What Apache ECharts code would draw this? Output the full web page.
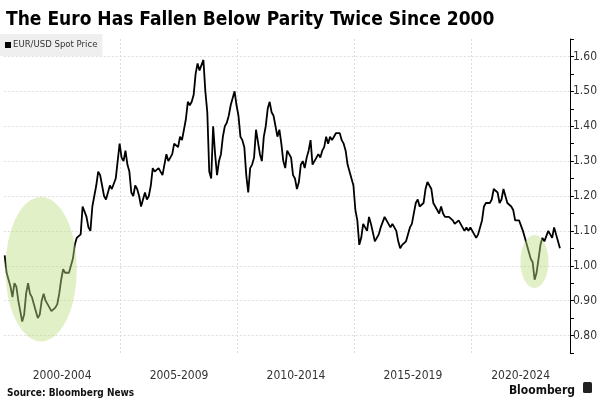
<!DOCTYPE html>
<html><head><meta charset="utf-8">
<script src="https://cdn.jsdelivr.net/npm/echarts@6/dist/echarts.min.js"></script>
<style>html,body{margin:0;padding:0;background:#fff}#c{width:600px;height:400px}</style>
</head><body><div id="c"></div>
<script>
// EUR/USD spot, approximate monthly values
const y2000 = [1.03, 0.98, 0.96, 0.94, 0.91, 0.95, 0.94, 0.90, 0.87, 0.84, 0.86, 0.92];
const y2001 = [0.95, 0.92, 0.91, 0.89, 0.87, 0.85, 0.86, 0.90, 0.92, 0.90, 0.89, 0.88];
const y2002 = [0.87, 0.87, 0.88, 0.89, 0.92, 0.96, 0.99, 0.98, 0.98, 0.98, 1.00, 1.02];
const y2003 = [1.06, 1.08, 1.08, 1.09, 1.17, 1.17, 1.14, 1.11, 1.10, 1.17, 1.17, 1.23];
const y2004 = [1.27, 1.26, 1.23, 1.20, 1.19, 1.21, 1.23, 1.22, 1.22, 1.25, 1.30, 1.35];
const y2005 = [1.31, 1.30, 1.33, 1.29, 1.27, 1.21, 1.20, 1.23, 1.22, 1.20, 1.17, 1.19];
const y2006 = [1.21, 1.19, 1.20, 1.23, 1.28, 1.27, 1.27, 1.28, 1.27, 1.26, 1.29, 1.32];
const y2007 = [1.30, 1.31, 1.32, 1.35, 1.35, 1.34, 1.37, 1.36, 1.39, 1.42, 1.47, 1.46];
const y2008 = [1.47, 1.49, 1.55, 1.58, 1.56, 1.56, 1.59, 1.50, 1.44, 1.27, 1.25, 1.40];
const y2009 = [1.32, 1.26, 1.30, 1.32, 1.37, 1.40, 1.41, 1.43, 1.46, 1.48, 1.50, 1.46];
const y2010 = [1.43, 1.37, 1.36, 1.34, 1.26, 1.21, 1.28, 1.29, 1.31, 1.39, 1.39, 1.32];
const y2011 = [1.30, 1.37, 1.40, 1.45, 1.47, 1.44, 1.43, 1.43, 1.37, 1.39, 1.35, 1.30];
const y2012 = [1.28, 1.33, 1.32, 1.31, 1.26, 1.25, 1.22, 1.24, 1.29, 1.30, 1.28, 1.31];
const y2013 = [1.33, 1.36, 1.29, 1.30, 1.30, 1.32, 1.31, 1.33, 1.34, 1.37, 1.35, 1.37];
const y2014 = [1.36, 1.37, 1.38, 1.38, 1.38, 1.36, 1.35, 1.33, 1.29, 1.27, 1.25, 1.23];
const y2015 = [1.16, 1.13, 1.06, 1.08, 1.12, 1.12, 1.10, 1.14, 1.12, 1.12, 1.07, 1.07];
const y2016 = [1.09, 1.11, 1.11, 1.14, 1.14, 1.12, 1.11, 1.12, 1.12, 1.10, 1.07, 1.05];
const y2017 = [1.06, 1.06, 1.07, 1.07, 1.11, 1.12, 1.15, 1.18, 1.19, 1.17, 1.17, 1.18];
const y2018 = [1.22, 1.24, 1.23, 1.22, 1.18, 1.17, 1.17, 1.15, 1.17, 1.15, 1.14, 1.14];
const y2019 = [1.14, 1.14, 1.13, 1.12, 1.12, 1.13, 1.12, 1.11, 1.10, 1.11, 1.10, 1.11];
const y2020 = [1.11, 1.09, 1.08, 1.09, 1.09, 1.13, 1.17, 1.18, 1.18, 1.18, 1.19, 1.22];
const y2021 = [1.22, 1.21, 1.18, 1.19, 1.22, 1.20, 1.18, 1.18, 1.17, 1.16, 1.13, 1.13];
const y2022 = [1.13, 1.13, 1.10, 1.08, 1.06, 1.06, 1.02, 1.01, 0.96, 0.98, 1.02, 1.06];
const y2023 = [1.08, 1.07, 1.07, 1.10, 1.09, 1.08, 1.11, 1.09, 1.07, 1.05];

const startYear = 2000;
const yearBlocks = [y2000,y2001,y2002,y2003,y2004,y2005,y2006,y2007,y2008,y2009,y2010,y2011,
  y2012,y2013,y2014,y2015,y2016,y2017,y2018,y2019,y2020,y2021,y2022,y2023];

const xBandStarts = [2000, 2005, 2010, 2015, 2020];
const xBandLabels = ['2000-2004', '2005-2009', '2010-2014', '2015-2019', '2020-2024'];
const yTickValues = [0.8, 0.9, 1.0, 1.1, 1.2, 1.3, 1.4, 1.5, 1.6];
// highlighted periods below parity: [centre year, centre value, half-width in years, half-height in value]
const highlights = [[2001.6, 0.99, 1.53, 0.207], [2022.7, 1.012, 0.6, 0.076]];

const xMin = 2000, xMax = 2024.22;

const seriesData = [];
yearBlocks.forEach((arr, i) => arr.forEach((v, m) => seriesData.push([startYear + i + (m + 0.5) / 12, v])));

const labelPos = xBandStarts.map(s => (s + Math.min(s + 5, xMax)) / 2);
const labelMap = {};
labelPos.forEach((p, i) => { labelMap[p.toFixed(3)] = xBandLabels[i]; });

const FONT = '"Liberation Sans Narrow", "DejaVu Sans Condensed", "Liberation Sans", sans-serif';

const chart = echarts.init(document.getElementById('c'), null, {renderer: 'canvas'});
chart.setOption({
  animation: false,
  backgroundColor: '#fff',
  title: [
    {text: 'The Euro Has Fallen Below Parity Twice Since 2000', left: 1, top: 6,
     textStyle: {fontFamily: FONT, fontWeight: 'bold', fontSize: 19, color: '#000'}},
    {text: 'Source: Bloomberg News', left: 2, top: 383,
     textStyle: {fontFamily: FONT, fontWeight: 'bold', fontSize: 10, color: '#111'}},
    {text: 'Bloomberg', right: 20, top: 380,
     textStyle: {fontFamily: FONT, fontWeight: 'bold', fontSize: 12, color: '#111'}}
  ],
  graphic: [
    {type: 'rect', right: 8, top: 382, shape: {width: 9, height: 11, r: 1.5}, style: {fill: '#222'}}
  ],
  legend: {
    left: 0, top: 34, icon: 'rect', itemWidth: 6, itemHeight: 6, itemGap: 2,
    backgroundColor: '#efefef', padding: [6, 5, 6, 5],
    data: ['EUR/USD Spot Price'],
    textStyle: {fontFamily: FONT, fontSize: 9.5, color: '#333', padding: [0, 0, 0, -3]}
  },
  grid: {left: 3.7, right: 28, top: 39, bottom: 47, containLabel: false},
  xAxis: {
    type: 'value', min: xMin, max: xMax,
    axisLine: {show: false}, axisTick: {show: false}, splitLine: {show: false},
    axisLabel: {
      customValues: labelPos, margin: 17,
      formatter: v => labelMap[v.toFixed(3)] || '',
      fontFamily: FONT, fontSize: 12, color: '#333'
    }
  },
  yAxis: {
    type: 'value', position: 'right', min: 0.75, max: 1.65, interval: 0.05,
    axisLine: {show: true, lineStyle: {color: '#000', width: 1}},
    axisTick: {show: true, inside: false, length: 4, lineStyle: {color: '#000'}},
    splitLine: {show: false},
    axisLabel: {
      customValues: yTickValues, margin: 3,
      formatter: v => v.toFixed(2),
      fontFamily: FONT, fontSize: 12, color: '#333'
    }
  },
  series: [
    {
      name: 'grid', type: 'line', data: [], z: 1, silent: true,
      markLine: {
        z: 1, silent: true, symbol: 'none', label: {show: false}, animation: false,
        lineStyle: {color: '#dcdcdc', type: [2, 2], width: 1},
        emphasis: {disabled: true},
        data: yTickValues.map(v => ({yAxis: v})).concat(xBandStarts.slice(1).map(v => ({xAxis: v})))
      }
    },
    {
      name: 'EUR/USD Spot Price', type: 'line', data: seriesData, z: 3,
      showSymbol: false, symbol: 'none', color: '#000',
      lineStyle: {color: '#000', width: 1.8}
    },
    {
      name: 'highlight', type: 'custom', z: 5, silent: true, data: highlights,
      renderItem: (params, api) => {
        const c = api.coord([api.value(0), api.value(1)]);
        const s = api.size([api.value(2), api.value(3)]);
        return {
          type: 'circle', x: c[0], y: c[1], scaleY: s[1] / s[0],
          shape: {cx: 0, cy: 0, r: s[0]},
          style: {fill: 'rgba(190,222,130,0.45)'}
        };
      }
    }
  ]
});
</script>
</body></html>
